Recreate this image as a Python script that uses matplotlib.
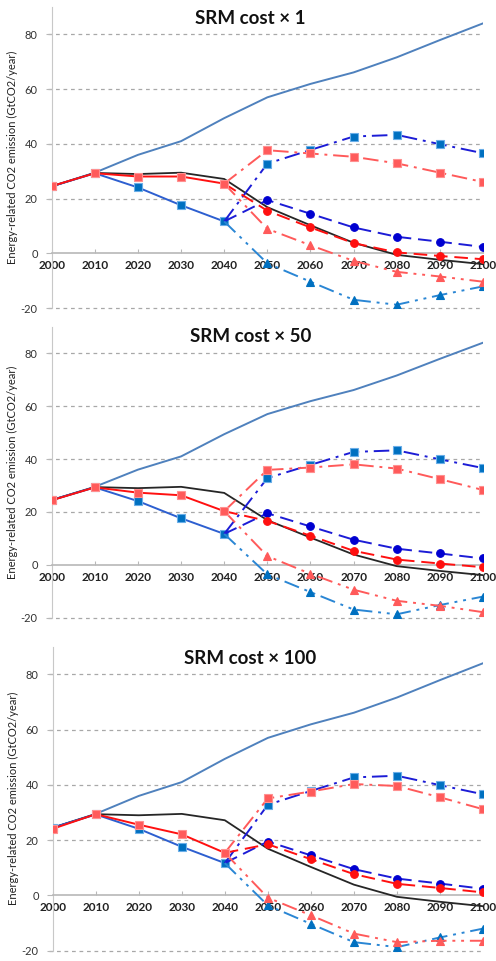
import matplotlib
matplotlib.use("Agg")
import matplotlib.pyplot as plt

YEARS = [2000, 2010, 2020, 2030, 2040, 2050, 2060, 2070, 2080, 2090, 2100]
TITLES = ["SRM cost \u00d7 1", "SRM cost \u00d7 50", "SRM cost \u00d7 100"]

# shared by all three panels
baseline = [24.5, 29.5, 36.0, 41.0, 49.4, 57.0, 61.9, 66.1, 71.6, 77.9, 84.0]
black = [24.5, 29.4, 29.0, 29.5, 27.2, 16.9, 10.3, 3.9, -0.5, -2.3, -3.9]
blue_trunk = [24.5, 29.3, 24.1, 17.6, 11.7]          # 2000-2040
blue_sq = [32.8, 37.8, 42.7, 43.3, 39.9, 36.6]       # 2050-2100
blue_ci = [19.5, 14.5, 9.5, 6.1, 4.3, 2.4]
blue_tri = [-3.6, -10.3, -16.9, -18.7, -15.2, -12.0]

# red scenarios, one row per panel
red_trunk = [[24.6, 29.3, 28.1, 28.1, 25.5],
             [24.4, 29.3, 27.3, 26.3, 20.3],
             [24.1, 29.4, 25.6, 22.1, 15.4]]
red_sq = [[37.7, 36.5, 35.3, 32.9, 29.5, 26.1],
          [35.9, 36.8, 38.0, 36.4, 32.4, 28.3],
          [35.1, 37.6, 40.3, 39.6, 35.5, 31.2]]
red_ci = [[15.6, 9.5, 3.8, 0.4, -0.9, -2.1],
          [16.6, 11.0, 5.3, 2.0, 0.5, -0.9],
          [18.5, 13.1, 7.7, 4.2, 2.7, 1.1]]
red_tri = [[9.0, 3.0, -2.7, -6.7, -8.4, -10.3],
           [3.3, -3.4, -9.4, -13.6, -15.5, -17.9],
           [-0.8, -7.2, -13.8, -16.9, -16.4, -16.4]]

BASE = "#4f81bd"; BLK = "#262626"
DBLUE = "#1c1cd6"; MBLUE = "#0070c0"; LBLUE = "#2a86d4"
RED = "#ff1010"; SALMON = "#ff5a5a"
DASHDOT = (0, (8, 3, 1.5, 3))
DASHDOTDOT = (0, (8, 3, 1.5, 3, 1.5, 3))
DASHED = (0, (7, 3.5))

plt.rcParams.update({"font.family": ["Lato", "DejaVu Sans"], "axes.unicode_minus": False})

fig = plt.figure(figsize=(4.96, 9.61), dpi=100)
# [left, bottom, width, height] in figure fractions, ylim -20..90
boxes = [[0.1042, 0.6792, 0.8696, 0.3136],
         [0.1042, 0.3572, 0.8696, 0.3027],
         [0.1062, 0.0107, 0.8676, 0.3164]]
title_y = [0.981, 0.650, 0.315]


def branch(ax, trunk, vals, color, ls, marker, mfc, ms, mec=None):
    x = YEARS[4:]
    y = [trunk[-1]] + vals
    ax.plot(x, y, color=color, ls=ls, lw=1.4, marker=marker, markevery=list(range(1, 7)),
            ms=ms, mfc=mfc, mec=mec or mfc, mew=0.8, zorder=4)


for i, box in enumerate(boxes):
    ax = fig.add_axes(box)
    ax.set_xlim(2000, 2100)
    ax.set_ylim(-20, 90)
    for s in ["top", "right"]:
        ax.spines[s].set_visible(False)
    ax.spines["bottom"].set_position(("data", 0))
    ax.spines["bottom"].set_color("#b8b8b8")
    ax.spines["left"].set_color("#c8c8c8")
    ax.spines["bottom"].set_linewidth(1.2)
    ax.set_yticks([-20, 0, 20, 40, 60, 80])
    ax.set_xticks(YEARS)
    ax.set_xticklabels([str(y) for y in YEARS], fontsize=8.5, fontweight="bold", color="#222222")
    ax.tick_params(axis="x", direction="in", length=3, color="#b8b8b8", pad=5)
    ax.tick_params(axis="y", length=4, color="#b8b8b8", pad=6, labelsize=8, labelcolor="#333333")
    for g in [-20, 20, 40, 60, 80]:
        ax.axhline(g, xmin=-0.008, color="#a8a8a8", ls=(0, (3, 3)), lw=0.9, zorder=1, clip_on=False)
    ax.set_ylabel("Energy-related CO2 emission (GtCO2/year)", fontsize=8, color="#222222",
                  labelpad=2)

    ax.plot(YEARS, baseline, color=BASE, lw=1.4, zorder=3)
    ax.plot(YEARS, black, color=BLK, lw=1.3, zorder=3)

    # blue family
    ax.plot(YEARS[:5], blue_trunk, color="#2d5fd0", lw=1.4, marker="s", ms=5.5,
            mfc=MBLUE, mec="#6aaee8", mew=0.8, zorder=4)
    branch(ax, blue_trunk, blue_sq, DBLUE, DASHDOT, "s", MBLUE, 5.5, "#6aaee8")
    branch(ax, blue_trunk, blue_ci, DBLUE, DASHED, "o", "#0000d0", 5.5)
    branch(ax, blue_trunk, blue_tri, LBLUE, DASHDOTDOT, "^", MBLUE, 5.5)

    # red family
    ax.plot(YEARS[:5], red_trunk[i], color=RED, lw=1.4, marker="s", ms=5.5,
            mfc=SALMON, mec="#ff9090", mew=0.8, zorder=5)
    branch(ax, red_trunk[i], red_sq[i], SALMON, DASHDOT, "s", SALMON, 5.5, "#ff9090")
    branch(ax, red_trunk[i], red_ci[i], RED, DASHED, "o", RED, 5.5)
    branch(ax, red_trunk[i], red_tri[i], SALMON, DASHDOTDOT, "^", SALMON, 5.5)

    fig.text(0.505, title_y[i], TITLES[i], ha="center", va="center",
             fontsize=13.5, fontweight="bold", color="#111111")

fig.savefig("out.png", dpi=100)
